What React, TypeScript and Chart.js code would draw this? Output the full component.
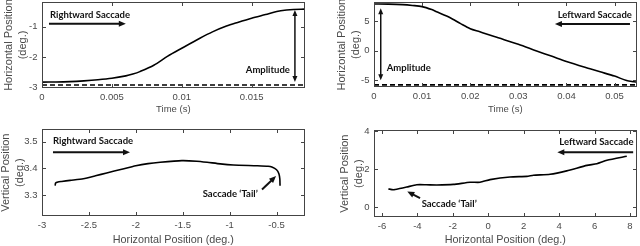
import React, { useEffect, useRef } from 'react';
import { Chart, registerables } from 'chart.js';
Chart.register(...registerables);

// ---------------- Data ----------------
// Top-left: rightward saccade, horizontal position vs time
const rightTime = [0, 0.001, 0.002, 0.003, 0.004, 0.005, 0.006, 0.0065, 0.007, 0.008, 0.009, 0.01, 0.0113, 0.0122, 0.0132, 0.014, 0.015, 0.016, 0.0168, 0.0175, 0.018, 0.0188];
const rightPos = [-2.825, -2.822, -2.81, -2.785, -2.75, -2.7, -2.62, -2.56, -2.48, -2.27, -1.97, -1.71, -1.38, -1.17, -0.98, -0.86, -0.72, -0.6, -0.5, -0.45, -0.43, -0.42];
const rightBaseTime = [0, 0.0188];
const rightBasePos = [-2.92, -2.92];

// Top-right: leftward saccade, horizontal position vs time
const leftTime = [0, 0.003, 0.006, 0.008, 0.01, 0.012, 0.013, 0.0151, 0.0165, 0.018, 0.02, 0.022, 0.025, 0.03, 0.0338, 0.037, 0.04, 0.0449, 0.047, 0.05, 0.0525, 0.054, 0.0546];
const leftPos = [7.95, 7.93, 7.84, 7.7, 7.5, 7.0, 6.64, 5.9, 5.3, 4.6, 3.75, 3.23, 2.4, 1.1, -0.05, -0.97, -1.85, -3.09, -3.6, -4.33, -5.1, -5.3, -5.35];
const leftBaseTime = [0, 0.0546];
const leftBasePos = [-5.82, -5.82];

// Bottom-left: rightward saccade trajectory
const rightH = [-2.86, -2.855, -2.83, -2.79, -2.7, -2.56, -2.43, -2.31, -2.15, -2.0, -1.87, -1.74, -1.51, -1.35, -1.24, -1.1, -0.96, -0.71, -0.59, -0.55, -0.5, -0.475, -0.465, -0.463];
const rightV = [3.335, 3.345, 3.349, 3.351, 3.355, 3.361, 3.372, 3.383, 3.397, 3.41, 3.418, 3.423, 3.429, 3.427, 3.423, 3.417, 3.413, 3.41, 3.408, 3.405, 3.395, 3.38, 3.36, 3.335];

// Bottom-right: leftward saccade trajectory
const leftH = [-5.64, -5.36, -5.0, -4.6, -4.04, -3.5, -2.9, -1.97, -1.03, -0.46, 0.1, 1.23, 2.18, 2.55, 3.49, 4.43, 5.57, 6.13, 6.7, 7.82];
const leftV = [0.95, 0.91, 0.97, 1.05, 1.17, 1.17, 1.16, 1.19, 1.3, 1.3, 1.44, 1.58, 1.61, 1.67, 1.72, 1.9, 2.19, 2.28, 2.46, 2.67];

// Ticks
const p1XTicks = [0, 0.005, 0.01, 0.015];
const p1YTicks = [-3, -2, -1];
const p2XTicks = [0, 0.01, 0.02, 0.03, 0.04, 0.05];
const p2YTicks = [-5, 0, 5];
const p3XTicks = [-3, -2.5, -2, -1.5, -1, -0.5];
const p3YTicks = [3.3, 3.4, 3.5];
const p4XTicks = [-6, -4, -2, 0, 2, 4, 6, 8];
const p4YTicks = [0, 2, 4];

// ---------------- Styles ----------------
const AXIS_COLOR = '#444444';
const TEXT_COLOR = '#4a4a4a';
const FAMILY = '"Liberation Sans", Arial, sans-serif';
const TICK_FONT = { family: FAMILY, size: 9.5 };
const YTITLE_FONT = { family: FAMILY, size: 11, lineHeight: 14 / 11 };
const NOTE_FONT = 'bold 9.5px Lato, "Liberation Sans", sans-serif';

function drawArrow(ctx, x1, y1, x2, y2, lw, head, headW, both) {
  const ang = Math.atan2(y2 - y1, x2 - x1);
  const ux = Math.cos(ang), uy = Math.sin(ang);
  const sx = both ? x1 + ux * head * 0.8 : x1;
  const sy = both ? y1 + uy * head * 0.8 : y1;
  const ex = x2 - ux * head * 0.8, ey = y2 - uy * head * 0.8;
  ctx.lineWidth = lw;
  ctx.beginPath();
  ctx.moveTo(sx, sy);
  ctx.lineTo(ex, ey);
  ctx.stroke();
  const tri = (tx, ty, dx, dy) => {
    const px = -dy, py = dx;
    ctx.beginPath();
    ctx.moveTo(tx, ty);
    ctx.lineTo(tx - dx * head + px * headW / 2, ty - dy * head + py * headW / 2);
    ctx.lineTo(tx - dx * head - px * headW / 2, ty - dy * head - py * headW / 2);
    ctx.closePath();
    ctx.fill();
  };
  tri(x2, y2, ux, uy);
  if (both) tri(x1, y1, -ux, -uy);
}

function drawFrame(chart) {
  const ctx = chart.ctx;
  const a = chart.chartArea;
  const xs = chart.scales.x;
  const ys = chart.scales.y;
  const L = Math.round(a.left), R = Math.round(a.right) - 1;
  const T = Math.round(a.top), B = Math.round(a.bottom) - 1;
  ctx.save();
  ctx.fillStyle = AXIS_COLOR;
  ctx.fillRect(L, T, R - L + 1, 1);
  ctx.fillRect(L, B, R - L + 1, 1);
  ctx.fillRect(L, T, 1, B - T + 1);
  ctx.fillRect(R, T, 1, B - T + 1);
  const tl = 3;
  xs.ticks.forEach((t) => {
    const p = Math.round(xs.getPixelForValue(t.value));
    ctx.fillRect(p, B - tl, 1, tl);
    ctx.fillRect(p, T + 1, 1, tl);
  });
  ys.ticks.forEach((t) => {
    const p = Math.round(ys.getPixelForValue(t.value));
    ctx.fillRect(L + 1, p, tl, 1);
    ctx.fillRect(R - tl, p, tl, 1);
  });
  ctx.restore();
}

const annotPlugin = {
  id: 'annot',
  afterDatasetsDraw(chart, _args, opts) {
    const { ctx, scales } = chart;
    const X = (v) => scales.x.getPixelForValue(v);
    const Y = (v) => scales.y.getPixelForValue(v);
    ctx.save();
    ctx.setLineDash([]);
    ctx.fillStyle = '#111';
    ctx.strokeStyle = '#111';
    (opts.arrows || []).forEach((ar) => {
      drawArrow(ctx, X(ar.x1), Y(ar.y1), X(ar.x2), Y(ar.y2), ar.w, ar.head, ar.headW, ar.both);
    });
    ctx.font = NOTE_FONT;
    ctx.textBaseline = 'middle';
    (opts.texts || []).forEach((t) => {
      ctx.textAlign = t.align;
      ctx.fillText(t.text, X(t.x), Y(t.y));
    });
    ctx.restore();
  },
  afterDraw(chart) {
    drawFrame(chart);
  },
};

function pts(xs, ys) {
  return xs.map((x, i) => ({ x, y: ys[i] }));
}

function buildConfig(p) {
  const datasets = [
    {
      data: pts(p.xs, p.ys),
      showLine: true,
      borderColor: '#000',
      borderWidth: 1.6,
      pointRadius: 0,
      tension: p.tension,
      fill: false,
    },
  ];
  if (p.baseX) {
    datasets.push({
      data: pts(p.baseX, p.baseY),
      showLine: true,
      borderColor: '#000',
      borderWidth: 1.6,
      borderDash: [5, 3],
      pointRadius: 0,
      fill: false,
    });
  }
  return {
    type: 'scatter',
    data: { datasets },
    options: {
      responsive: false,
      animation: false,
      devicePixelRatio: 1,
      layout: { padding: p.padding },
      plugins: {
        legend: { display: false },
        tooltip: { enabled: false },
        annot: { texts: p.texts, arrows: p.arrows },
      },
      scales: {
        x: {
          type: 'linear',
          min: p.xMin,
          max: p.xMax,
          grid: { display: false, drawTicks: false, tickLength: 0 },
          border: { display: false },
          afterBuildTicks: (s) => { s.ticks = p.xTicks.map((v) => ({ value: v })); },
          afterFit: (s) => { s.height = p.xH; s.paddingLeft = 0; s.paddingRight = 0; },
          ticks: { font: TICK_FONT, color: TEXT_COLOR, padding: 3.5, maxRotation: 0, autoSkip: false, callback: (v) => String(v) },
          title: { display: true, text: p.xTitle, color: TEXT_COLOR, font: { family: FAMILY, size: p.xTitleSize, lineHeight: 1 }, padding: { top: 0, bottom: p.xTitlePad } },
        },
        y: {
          type: 'linear',
          min: p.yMin,
          max: p.yMax,
          grid: { display: false, drawTicks: false, tickLength: 0 },
          border: { display: false },
          afterBuildTicks: (s) => { s.ticks = p.yTicks.map((v) => ({ value: v })); },
          afterFit: (s) => { s.width = p.yW; s.paddingTop = 0; s.paddingBottom = 0; },
          ticks: { font: TICK_FONT, color: TEXT_COLOR, padding: 4.5, autoSkip: false, callback: (v) => String(v) },
          title: { display: true, text: p.yTitle, color: TEXT_COLOR, font: YTITLE_FONT, padding: { top: p.yTitlePad, bottom: 0 } },
        },
      },
    },
    plugins: [annotPlugin],
  };
}

const panels = [
  {
    left: 0, top: 0,
    xs: rightTime, ys: rightPos, baseX: rightBaseTime, baseY: rightBasePos, tension: 0.3,
    xMin: 0, xMax: 0.0188, yMin: -3.02, yMax: -0.185,
    xTicks: p1XTicks, yTicks: p1YTicks,
    padding: { left: 0, top: 2, right: 15.3, bottom: 0 }, yW: 42, xH: 35,
    xTitle: 'Time (s)', xTitleSize: 9.5, xTitlePad: 9.2,
    yTitle: ['Horizontal Position', '(deg.)'], yTitlePad: 2.3,
    texts: [
      { x: 0.00057, y: -0.6, text: 'Rightward Saccade', align: 'left' },
      { x: 0.01774, y: -2.41, text: 'Amplitude', align: 'right' },
    ],
    arrows: [
      { x1: 0.0005, y1: -0.9, x2: 0.006, y2: -0.9, w: 2, head: 7, headW: 6, both: false },
      { x1: 0.0181, y1: -2.825, x2: 0.0181, y2: -0.45, w: 1.5, head: 6, headW: 5, both: true },
    ],
  },
  {
    left: 320, top: 0,
    xs: leftTime, ys: leftPos, baseX: leftBaseTime, baseY: leftBasePos, tension: 0.3,
    xMin: 0, xMax: 0.0546, yMin: -6.24, yMax: 8.29,
    xTicks: p2XTicks, yTicks: p2YTicks,
    padding: { left: 0, top: 2, right: 3.3, bottom: 0 }, yW: 54, xH: 35.7,
    xTitle: 'Time (s)', xTitleSize: 9.5, xTitlePad: 9.2,
    yTitle: ['Horizontal Position', '(deg.)'], yTitlePad: 15.3,
    texts: [
      { x: 0.0536, y: 6.07, text: 'Leftward Saccade', align: 'right' },
      { x: 0.00264, y: -2.9, text: 'Amplitude', align: 'left' },
    ],
    arrows: [
      { x1: 0.0532, y1: 4.54, x2: 0.0376, y2: 4.54, w: 2, head: 7, headW: 6, both: false },
      { x1: 0.0014, y1: -5.02, x2: 0.0014, y2: 7.22, w: 1.5, head: 6, headW: 5, both: true },
    ],
  },
  {
    left: 0, top: 123,
    xs: rightH, ys: rightV, tension: 0.2,
    xMin: -3, xMax: -0.2, yMin: 3.22, yMax: 3.548,
    xTicks: p3XTicks, yTicks: p3YTicks,
    padding: { left: 0, top: 6, right: 15.3, bottom: 0 }, yW: 42, xH: 29.7,
    xTitle: 'Horizontal Position (deg.)', xTitleSize: 10.8, xTitlePad: 0.4,
    yTitle: ['Vertical Position', '(deg.)'], yTitlePad: -1.5,
    texts: [
      { x: -2.883, y: 3.5015, text: 'Rightward Saccade', align: 'left' },
      { x: -1.287, y: 3.304, text: 'Saccade \u2018Tail\u2019', align: 'left' },
    ],
    arrows: [
      { x1: -2.883, y1: 3.461, x2: -2.062, y2: 3.461, w: 2, head: 7, headW: 6, both: false },
      { x1: -0.655, y1: 3.321, x2: -0.505, y2: 3.371, w: 2, head: 7, headW: 6, both: false },
    ],
  },
  {
    left: 320, top: 123,
    xs: leftH, ys: leftV, tension: 0.2,
    xMin: -6.45, xMax: 8.38, yMin: -0.53, yMax: 4.04,
    xTicks: p4XTicks, yTicks: p4YTicks,
    padding: { left: 0, top: 7.3, right: 3.3, bottom: 0 }, yW: 54, xH: 29,
    xTitle: 'Horizontal Position (deg.)', xTitleSize: 10.8, xTitlePad: 0.4,
    yTitle: ['Vertical Position', '(deg.)'], yTitlePad: 17.7,
    texts: [
      { x: 8.2, y: 3.405, text: 'Leftward Saccade', align: 'right' },
      { x: -3.76, y: 0.158, text: 'Saccade \u2018Tail\u2019', align: 'left' },
    ],
    arrows: [
      { x1: 8.18, y1: 2.88, x2: 3.9, y2: 2.88, w: 2, head: 7, headW: 6, both: false },
      { x1: -3.85, y1: 0.47, x2: -4.57, y2: 0.81, w: 2, head: 7, headW: 6, both: false },
    ],
  },
];

function Panel({ p }) {
  const ref = useRef(null);
  useEffect(() => {
    const chart = new Chart(ref.current, buildConfig(p));
    return () => chart.destroy();
  }, [p]);
  return (
    <canvas
      ref={ref}
      width={320}
      height={123}
      style={{ position: 'absolute', left: p.left, top: p.top, width: 320, height: 123, display: 'block' }}
    />
  );
}

export default function App() {
  return (
    <div style={{ position: 'absolute', left: 0, top: 0, width: 640, height: 246, background: '#fff', overflow: 'hidden' }}>
      {panels.map((p, i) => (
        <Panel key={i} p={p} />
      ))}
    </div>
  );
}
